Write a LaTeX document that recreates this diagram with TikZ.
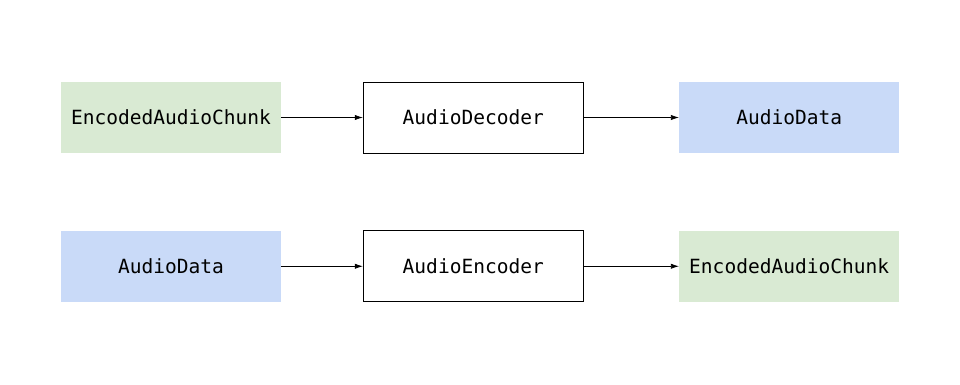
\documentclass[tikz,border=0pt]{standalone}
\usepackage{fontspec}
\setmonofont{DejaVu Sans Mono}
\definecolor{ChunkColor}{HTML}{D9EAD3}
\definecolor{DataColor}{HTML}{C9DAF8}
\usetikzlibrary{arrows.meta, positioning}
\tikzset{
    base/.style={
        rectangle,
        minimum width=5.5cm,
        minimum height=1.775cm,
        align=center,
        font=\fontsize{13.9}{16}\selectfont\ttfamily,
        inner sep=0pt
    },
    chunk/.style={base, fill=ChunkColor},
    data/.style={base, fill=DataColor},
    codec/.style={base, draw=black, line width=0.6pt, fill=white},
    arrow/.style={-{Latex[length=0.2cm, width=0.13cm]}, line width=0.5pt, draw=black}
}
\begin{document}
\begin{tikzpicture}[node distance=1.93cm and 2.04cm]
    \useasboundingbox (0,0) rectangle (24,9.6);
    % Decoding
    \node[chunk] (chunkin) at (4.275,6.6625) {EncodedAudioChunk};
    \node[codec, right=of chunkin] (decoder) {AudioDecoder};
    \node[data, right=2.38cm of decoder] (dataout) {AudioData};
    % Encoding
    \node[data, below=of chunkin] (datain) {AudioData};
    \node[codec, right=of datain] (encoder) {AudioEncoder};
    \node[chunk, right=2.38cm of encoder] (chunkout) {EncodedAudioChunk};

    % Arrows
    \draw[arrow] (chunkin) -- (decoder);
    \draw[arrow] (decoder) -- (dataout);
    \draw[arrow] (datain) -- (encoder);
    \draw[arrow] (encoder) -- (chunkout);
\end{tikzpicture}
\end{document}
